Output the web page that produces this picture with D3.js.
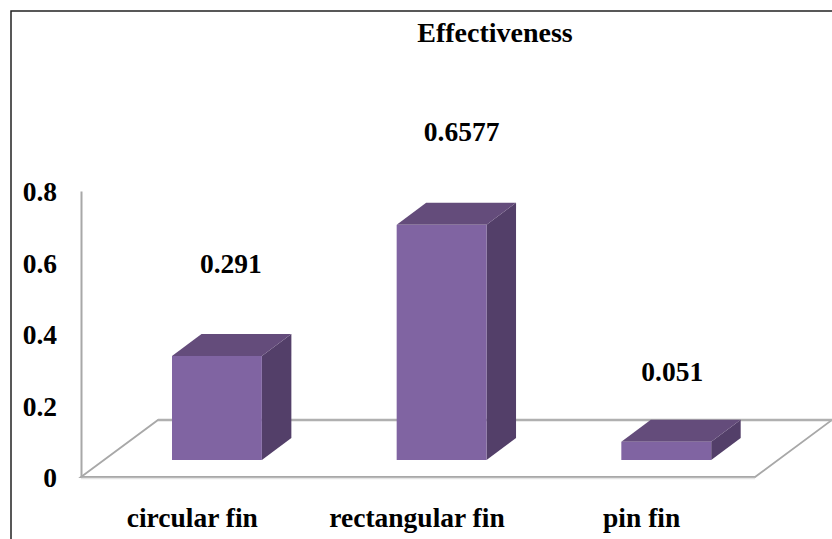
<!DOCTYPE html>
<html>
<head>
<meta charset="utf-8">
<script src="https://cdn.jsdelivr.net/npm/d3@7"></script>
<style>
body { margin: 0; background: #fff; }
svg { display: block; }
text { font-family: "Liberation Serif", serif; font-weight: bold; font-size: 27.5px; fill: #000; }
</style>
</head>
<body>
<svg></svg>
<script>
const categories = ["circular fin", "rectangular fin", "pin fin"];
const values = [0.291, 0.6577, 0.051];
const valueLabels = ["0.291", "0.6577", "0.051"];
const ticks = [0, 0.2, 0.4, 0.6, 0.8];
const chartTitle = "Effectiveness";

const width = 832;
const height = 539;
const floorX0 = 81;
const floorX1 = 755;
const floorY = 477;
const topY = 191;
// depth of the floor and of each bar (3d offset)
const floorDx = 77;
const floorDy = 57;
const barDx = 29.5;
const barDy = 22;
const barLift = 17;
const barShift = 23.6;
const labelDx = [14, 20, 6];
const labelDy = [83, 84, 61];

let svg = d3.select("svg")
    .attr("width", width)
    .attr("height", height);

let scaleX = d3.scaleBand()
    .domain(categories)
    .range([floorX0, floorX1])
    .paddingInner(0.6)
    .paddingOuter(0.3);

let scaleY = d3.scaleLinear()
    .domain([0, 0.8])
    .range([floorY, topY]);

// outer frame
svg.append("path")
    .attr("d", `M11,${height} V11 H${width}`)
    .attr("fill", "none")
    .attr("stroke", "#222")
    .attr("stroke-width", 1.5);

// floor
svg.append("path")
    .attr("d", `M${floorX0},${floorY} L${floorX0 + floorDx},${floorY - floorDy}`
        + ` H${floorX1 + floorDx} L${floorX1},${floorY} Z`)
    .attr("fill", "none")
    .attr("stroke", "#a8a8a8")
    .attr("stroke-width", 1.8);

svg.append("line")
    .attr("x1", floorX0).attr("x2", floorX1)
    .attr("y1", floorY + 1.5).attr("y2", floorY + 1.5)
    .attr("stroke", "#e4e4e4")
    .attr("stroke-width", 1.5);

svg.append("line")
    .attr("x1", floorX0 + floorDx).attr("x2", floorX1 + floorDx)
    .attr("y1", floorY - floorDy).attr("y2", floorY - floorDy)
    .attr("stroke", "#b0b0b0")
    .attr("stroke-width", 2.5);

// y axis
let axisY = d3.axisLeft(scaleY)
    .tickValues(ticks)
    .tickSize(0)
    .tickPadding(24)
    .tickFormat(d => d);

let gY = svg.append("g")
    .attr("transform", `translate(${floorX0}, 0)`)
    .call(axisY);
gY.select(".domain").attr("stroke", "#a8a8a8").attr("stroke-width", 2);
gY.selectAll("text")
    .attr("font-size", null)
    .attr("font-family", null)
    .attr("fill", null)
    .attr("y", 1);

// bars
let bars = svg.selectAll(".bar")
    .data(categories)
    .enter()
    .append("g")
    .attr("class", "bar");

function barBox(i) {
    let x0 = scaleX(categories[i]) + barShift;
    let x1 = x0 + scaleX.bandwidth();
    let y0 = floorY - barLift;
    let y1 = scaleY(values[i]) - barLift;
    return {x0, x1, y0, y1};
}

bars.append("path")
    .attr("d", (d, i) => {
        let b = barBox(i);
        return `M${b.x1},${b.y1} L${b.x1 + barDx},${b.y1 - barDy} V${b.y0 - barDy} L${b.x1},${b.y0} Z`;
    })
    .attr("fill", "#533f69");

bars.append("path")
    .attr("d", (d, i) => {
        let b = barBox(i);
        return `M${b.x0},${b.y1} L${b.x0 + barDx},${b.y1 - barDy} H${b.x1 + barDx} L${b.x1},${b.y1} Z`;
    })
    .attr("fill", "#644c7b");

bars.append("rect")
    .attr("x", (d, i) => barBox(i).x0)
    .attr("y", (d, i) => barBox(i).y1)
    .attr("width", scaleX.bandwidth())
    .attr("height", (d, i) => barBox(i).y0 - barBox(i).y1)
    .attr("fill", "#8064a2");

// value labels
bars.append("text")
    .attr("x", (d, i) => barBox(i).x0 + scaleX.bandwidth() / 2 + labelDx[i])
    .attr("y", (d, i) => barBox(i).y1 - labelDy[i])
    .attr("text-anchor", "middle")
    .text((d, i) => valueLabels[i]);

// category labels
svg.selectAll(".cat")
    .data(categories)
    .enter()
    .append("text")
    .attr("class", "cat")
    .attr("x", d => scaleX(d) + scaleX.bandwidth() / 2 - 1)
    .attr("y", 527)
    .attr("text-anchor", "middle")
    .text(d => d);

svg.append("text")
    .attr("x", 495)
    .attr("y", 42)
    .attr("text-anchor", "middle")
    .style("font-size", "28px")
    .text(chartTitle);
</script>
</body>
</html>
